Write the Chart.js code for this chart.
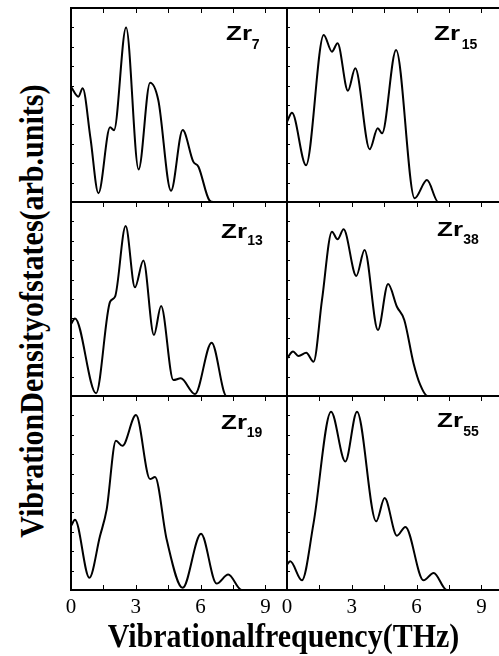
<!DOCTYPE html>
<html><head><meta charset="utf-8">
<script src="https://cdn.jsdelivr.net/npm/chart.js@4.4.1/dist/chart.umd.min.js"></script>
<style>
html,body{margin:0;padding:0;background:#fff;overflow:hidden;}
#wrap{position:relative;width:499px;height:656px;overflow:hidden;background:#fff;}
#wrap canvas{position:absolute;}
.zr,.sub{position:absolute;font-family:"Liberation Sans",Arial,sans-serif;font-weight:bold;color:#000;white-space:nowrap;}
.zr{font-size:20px;line-height:20px;transform:scaleX(1.3);transform-origin:0 0;}
.sub{font-size:14px;line-height:14px;}
.title{position:absolute;width:600px;font-family:"Liberation Serif","Times New Roman",serif;font-weight:bold;font-size:30px;line-height:30px;white-space:nowrap;text-align:center;color:#000;transform-origin:50% 25.1px;}
</style></head>
<body><div id="wrap"></div>
<script>
// ---- data ----
const clusterSizes = [7, 15, 13, 38, 19, 55];
const xTickValues = [0, 3, 6, 9];
const xTitle = 'Vibrationalfrequency(THz)';
const yTitle = 'VibrationDensityofstates(arb.units)';

const zr7Freq  = [0, 0.34, 0.54, 0.9, 1.27, 1.81, 1.99, 2.55, 3.13, 3.66, 4.04, 4.63, 5.17, 5.66, 5.9, 6.4, 6.6, 10];
const zr7Dos   = [0.594, 0.543, 0.586, 0.33, 0.045, 0.385, 0.37, 0.90, 0.168, 0.615, 0.526, 0.058, 0.371, 0.208, 0.182, 0.01, 0, 0];

const zr15Freq = [0, 0.23, 0.88, 1.70, 2.08, 2.34, 2.82, 3.16, 3.83, 4.20, 4.40, 5.05, 5.91, 6.48, 7.0, 10];
const zr15Dos  = [0.414, 0.46, 0.19, 0.861, 0.775, 0.818, 0.574, 0.689, 0.272, 0.38, 0.354, 0.784, 0.019, 0.113, 0, 0];

const zr13Freq = [0, 0.185, 1.16, 1.81, 2.04, 2.53, 2.96, 3.35, 3.84, 4.17, 4.74, 5.08, 5.74, 6.51, 7.2, 10];
const zr13Dos  = [0.37, 0.40, 0.014, 0.486, 0.512, 0.876, 0.56, 0.698, 0.314, 0.464, 0.082, 0.091, 0.01, 0.275, 0, 0];

const zr38Freq = [0, 0.28, 0.54, 0.89, 1.23, 1.62, 2.08, 2.34, 2.62, 3.21, 3.59, 4.21, 4.68, 5.09, 5.43, 5.86, 6.17, 6.5, 10];
const zr38Dos  = [0.194, 0.229, 0.206, 0.223, 0.177, 0.495, 0.847, 0.808, 0.859, 0.619, 0.753, 0.34, 0.577, 0.46, 0.392, 0.168, 0.057, 0, 0];

const zr19Freq = [0, 0.185, 0.85, 1.34, 1.65, 2.08, 2.38, 3.01, 3.66, 3.89, 4.43, 5.17, 6.02, 6.74, 7.28, 7.9, 10];
const zr19Dos  = [0.33, 0.362, 0.063, 0.277, 0.414, 0.769, 0.743, 0.902, 0.572, 0.582, 0.26, 0.011, 0.29, 0.033, 0.08, 0, 0];

const zr55Freq = [0, 0.15, 0.69, 1.23, 2.04, 2.70, 3.24, 4.13, 4.52, 5.09, 5.48, 6.32, 6.79, 7.4, 10];
const zr55Dos  = [0.131, 0.148, 0.05, 0.345, 0.919, 0.662, 0.919, 0.354, 0.474, 0.28, 0.325, 0.05, 0.088, 0, 0];

const seriesFreq = [zr7Freq, zr15Freq, zr13Freq, zr38Freq, zr19Freq, zr55Freq];
const seriesDos  = [zr7Dos, zr15Dos, zr13Dos, zr38Dos, zr19Dos, zr55Dos];

// ---- layout ----
const colLeft = [71, 287], rowTop = [8, 202, 396];
const PW = 216, PH = 194, PAD = 12, AX = 32;
const labelPos = [ // [zrLeft, zrTop, subLeft, subTop]
  [225.7, 23.1, 251.7, 36.5],
  [434, 23.1, 461.7, 36.5],
  [221, 221.4, 247.3, 233.2],
  [437.3, 218.8, 463.3, 232.2],
  [221, 412.1, 246.7, 424.9],
  [437.3, 409.8, 463.3, 423.9]
];

Chart.defaults.color = '#000';

const framePlugin = {
  id: 'frame',
  afterDatasetsDraw(chart) {
    const {ctx, chartArea: a, scales: {x, y}} = chart;
    const bottom = chart.options.plugins.frame.bottom;
    ctx.save();
    ctx.strokeStyle = '#000';
    ctx.lineWidth = 1;
    ctx.beginPath();
    for (let v = 1.5; v < 10; v += 1.5) {
      const px = Math.round(x.getPixelForValue(v)) + 0.5;
      ctx.moveTo(px, a.top); ctx.lineTo(px, a.top + 5);
      if (bottom) { ctx.moveTo(px, a.bottom); ctx.lineTo(px, a.bottom - 5); }
    }
    for (let k = 1; k < 10; k++) {
      const py = Math.round(y.getPixelForValue(k / 10)) + 0.5;
      ctx.moveTo(a.left, py); ctx.lineTo(a.left + 3, py);
    }
    ctx.stroke();
    ctx.lineWidth = 2;
    ctx.strokeRect(a.left, a.top, a.right - a.left, a.bottom - a.top);
    ctx.restore();
  }
};

const wrap = document.getElementById('wrap');
for (let i = 0; i < 6; i++) {
  const col = i % 2, row = Math.floor(i / 2);
  const isBottom = row === 2;
  const cv = document.createElement('canvas');
  cv.width = PW + 2 * PAD;
  cv.height = PAD + PH + (isBottom ? AX : PAD);
  cv.style.left = (colLeft[col] - PAD) + 'px';
  cv.style.top = (rowTop[row] - PAD) + 'px';
  wrap.appendChild(cv);
  const f = seriesFreq[i], d = seriesDos[i];
  new Chart(cv, {
    type: 'line',
    data: { datasets: [{
      data: f.map((fx, k) => ({x: fx, y: d[k]})),
      borderColor: '#000', borderWidth: 2, pointRadius: 0, fill: false,
      cubicInterpolationMode: 'monotone'
    }]},
    options: {
      responsive: false, animation: false, events: [],
      layout: { padding: { left: PAD, right: PAD, top: PAD, bottom: isBottom ? 0 : PAD } },
      plugins: { legend: {display: false}, tooltip: {enabled: false}, frame: {bottom: isBottom} },
      scales: {
        x: {
          type: 'linear', min: 0, max: 10, display: isBottom,
          grid: {display: false, drawTicks: false}, border: {display: false},
          afterBuildTicks: s => { s.ticks = xTickValues.map(v => ({value: v})); },
          ticks: { autoSkip: false, maxRotation: 0, color: '#000', padding: 5,
                   font: {family: 'Liberation Serif', size: 21} },
          afterFit: s => { if (isBottom) s.height = AX; }
        },
        y: { type: 'linear', min: 0, max: 1, display: false }
      }
    },
    plugins: [framePlugin]
  });
  const p = labelPos[i];
  const zr = document.createElement('div');
  zr.className = 'zr'; zr.textContent = 'Zr';
  zr.style.left = p[0] + 'px'; zr.style.top = p[1] + 'px';
  wrap.appendChild(zr);
  const sub = document.createElement('div');
  sub.className = 'sub'; sub.textContent = String(clusterSizes[i]);
  sub.style.left = p[2] + 'px'; sub.style.top = p[3] + 'px';
  wrap.appendChild(sub);
}

const xt = document.createElement('div');
xt.className = 'title'; xt.textContent = xTitle;
xt.style.left = (283.5 - 300) + 'px'; xt.style.top = '621.6px';
xt.style.transform = 'scaleY(1.14)';
wrap.appendChild(xt);

const yt = document.createElement('div');
yt.className = 'title'; yt.textContent = yTitle;
yt.style.left = (43 - 300) + 'px'; yt.style.top = (311.5 - 25.1) + 'px';
yt.style.transform = 'rotate(-90deg) scaleY(1.14)';
wrap.appendChild(yt);
</script>
</body></html>
